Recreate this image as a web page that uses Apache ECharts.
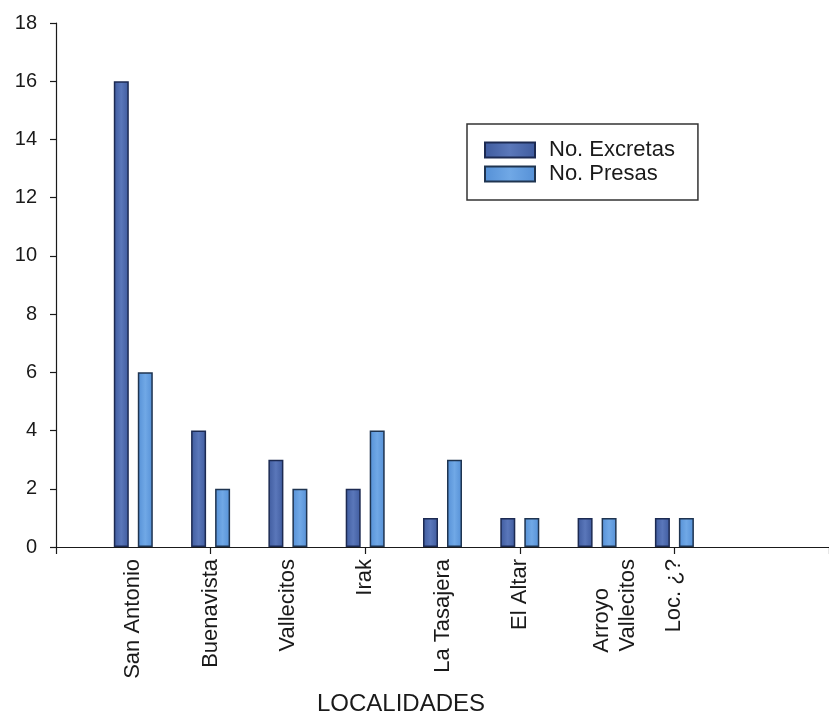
<!DOCTYPE html>
<html>
<head>
<meta charset="utf-8">
<script src="https://cdn.jsdelivr.net/npm/echarts@6/dist/echarts.min.js"></script>
<style>
  html, body { margin: 0; padding: 0; background: #ffffff; }
  #chart { width: 829px; height: 715px; }
</style>
</head>
<body>
<div id="chart"></div>
<script>
// Categories (blank slots keep the axis extending as in the original)
const categories = ['', 'San Antonio', 'Buenavista', 'Vallecitos', 'Irak', 'La Tasajera', 'El Altar', 'Arroyo\nVallecitos', 'Loc. ¿?', '', ''];
const excretas = [null, 16, 4, 3, 2, 1, 1, 1, 1, null, null];
const presas   = [null, 6, 2, 2, 4, 3, 1, 1, 1, null, null];
const seriesNames = ['No. Excretas', 'No. Presas'];
const yTicks = { min: 0, max: 18, interval: 2 };
const axisTitle = 'LOCALIDADES';

const FONT = '"Liberation Sans", Arial, sans-serif';
const chart = echarts.init(document.getElementById('chart'), null, { renderer: 'canvas' });

function hGrad(a, b) {
  return new echarts.graphic.LinearGradient(0, 0, 1, 0, [
    { offset: 0, color: a }, { offset: 0.5, color: b }, { offset: 1, color: a }
  ]);
}

const xData = categories.map(function (c) {
  if (c.indexOf('\n') >= 0) {
    return { value: c, textStyle: { padding: [36, 0, 0, 0] } };
  }
  return c;
});

chart.setOption({
  backgroundColor: '#ffffff',
  animation: false,
  title: {
    text: axisTitle,
    left: 317,
    top: 692,
    padding: 0,
    textStyle: { fontFamily: FONT, fontSize: 24, fontWeight: 'normal', color: '#1a1a1a', lineHeight: 24 }
  },
  legend: {
    orient: 'vertical',
    left: 467,
    top: 124,
    padding: [15, 23, 15, 17],
    itemWidth: 50,
    itemHeight: 15,
    itemGap: 2,
    backgroundColor: '#ffffff',
    borderColor: '#333333',
    borderWidth: 1.5,
    borderRadius: 0,
    icon: 'rect',
    data: seriesNames,
    textStyle: { fontFamily: FONT, fontSize: 22, lineHeight: 22, color: '#1a1a1a', padding: [0, 0, 0, 9] }
  },
  grid: { left: 56, right: -7, top: 23, bottom: 168, containLabel: false },
  xAxis: {
    type: 'category',
    data: xData,
    boundaryGap: false,
    axisLine: { lineStyle: { color: '#1a1a1a', width: 1.2 } },
    axisTick: { show: true, interval: 1, length: 7, lineStyle: { color: '#1a1a1a', width: 1.2 } },
    axisLabel: {
      interval: 0,
      rotate: 90,
      margin: 12,
      fontFamily: FONT,
      fontSize: 22,
      color: '#1a1a1a',
      formatter: function (v) {
        if (v.indexOf('\n') >= 0) {
          const parts = v.split('\n');
          return '{a|' + parts[0] + '}\n{b|' + parts[1] + '}';
        }
        return v;
      },
      rich: {
        a: { fontFamily: FONT, fontSize: 22, color: '#1a1a1a', padding: [0, 29, 0, 0], lineHeight: 26 },
        b: { fontFamily: FONT, fontSize: 22, color: '#1a1a1a', lineHeight: 26 }
      }
    },
    splitLine: { show: false }
  },
  yAxis: {
    type: 'value',
    min: yTicks.min,
    max: yTicks.max,
    interval: yTicks.interval,
    axisLine: { show: true, lineStyle: { color: '#1a1a1a', width: 1.2 } },
    axisTick: { show: true, length: 6, lineStyle: { color: '#1a1a1a', width: 1.2 } },
    axisLabel: { margin: 19, fontFamily: FONT, fontSize: 20, color: '#1a1a1a' },
    splitLine: { show: false }
  },
  series: [
    {
      name: seriesNames[0],
      type: 'bar',
      data: excretas,
      barWidth: 15,
      barGap: '60%',
      itemStyle: { color: hGrad('#3f5b9e', '#5a77ba'), borderColor: '#1c2a52', borderWidth: 1.5 }
    },
    {
      name: seriesNames[1],
      type: 'bar',
      data: presas,
      barWidth: 15,
      barGap: '60%',
      itemStyle: { color: hGrad('#5590d6', '#70a8e6'), borderColor: '#1f3450', borderWidth: 1.5 }
    }
  ]
});
</script>
</body>
</html>
